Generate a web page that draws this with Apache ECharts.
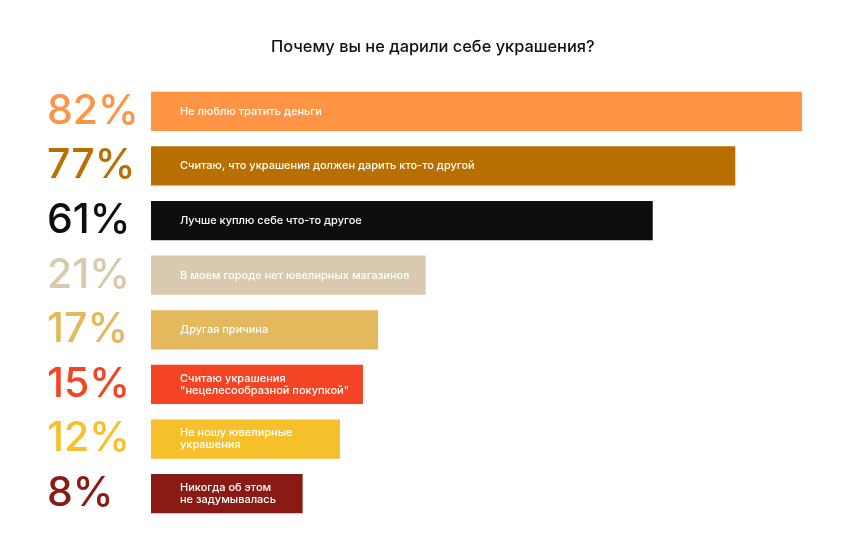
<!DOCTYPE html>
<html><head><meta charset="utf-8">
<script src="https://cdn.jsdelivr.net/npm/echarts@6/dist/echarts.min.js"></script>
<style>html,body{margin:0;padding:0;background:#fff}#c{width:850px;height:550px}</style>
</head><body><div id="c"></div>
<script>
const title = 'Почему вы не дарили себе украшения?';
const shareLabels = ['82%', '77%', '61%', '21%', '17%', '15%', '12%', '8%'];
const reasons = [
  'Не люблю тратить деньги',
  'Считаю, что украшения должен дарить кто-то другой',
  'Лучше куплю себе что-то другое',
  'В моем городе нет ювелирных магазинов',
  'Другая причина',
  'Считаю украшения\n"нецелесообразной покупкой"',
  'Не ношу ювелирные\nукрашения',
  'Никогда об этом\nне задумывалась'
];
// visual bar extent (scale: longest bar = 82)
const barLengths = [82, 73.6, 63.2, 34.6, 28.6, 26.7, 23.8, 19.1];
const colors = ['#FF9444', '#B86F00', '#0E0E0E', '#D9C9AE', '#E4B85C', '#F44424', '#F6C02B', '#8A1A14'];

const rich = {};
colors.forEach((c, i) => {
  rich['c' + i] = { color: c, fontSize: 41, fontWeight: 500, fontFamily: 'Inter', lineHeight: 46 };
});

const chart = echarts.init(document.getElementById('c'));
chart.setOption({
  animation: false,
  title: {
    text: title, left: 266, top: 34,
    textStyle: { fontFamily: 'Inter', fontSize: 16.4, fontWeight: 500, color: '#111' }
  },
  grid: { left: 151, right: 48, top: 84, bottom: 29, containLabel: false },
  xAxis: { type: 'value', min: 0, max: 82, show: false },
  yAxis: {
    type: 'category', inverse: true, data: shareLabels,
    axisLine: { show: false }, axisTick: { show: false },
    axisLabel: {
      align: 'left', margin: 104,
      formatter: (v, i) => '{c' + i + '|' + v + '}',
      rich: rich
    }
  },
  series: [{
    type: 'bar',
    barCategoryGap: '28%',
    data: barLengths.map((v, i) => ({ value: v, itemStyle: { color: colors[i] } })),
    label: {
      show: true, position: 'insideLeft', distance: 29,
      formatter: p => reasons[p.dataIndex],
      color: '#fff', fontSize: 11, fontWeight: 500, fontFamily: 'Inter', lineHeight: 12
    }
  }]
});
</script></body></html>
